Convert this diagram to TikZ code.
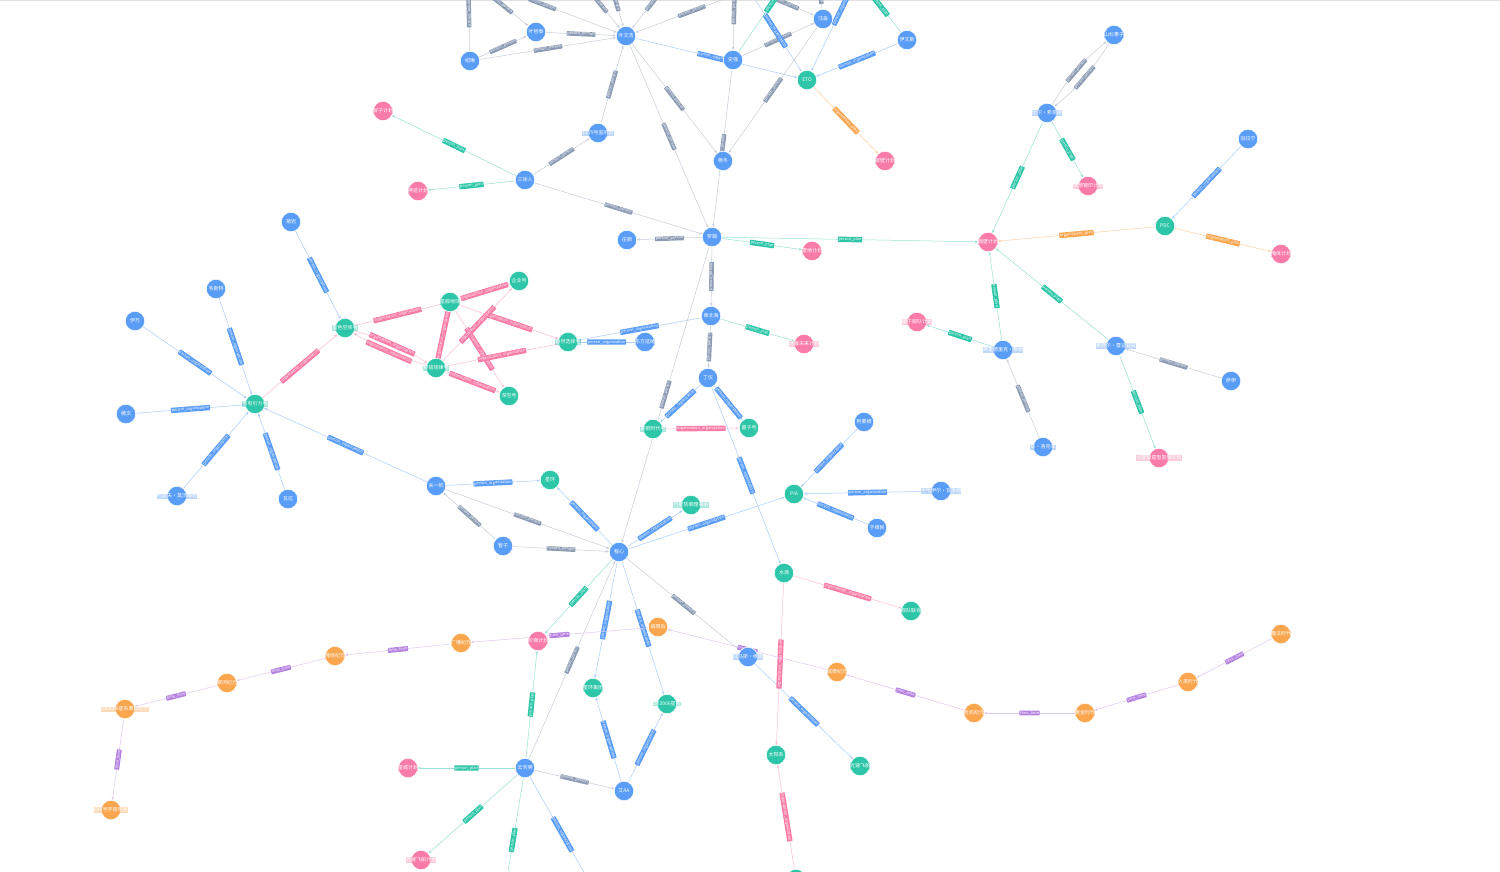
\documentclass[tikz,border=0pt]{standalone}
\usepackage{fontspec}
\setmainfont{Noto Sans CJK SC}
\usepackage{xcolor}
\usetikzlibrary{arrows.meta}
\pgfdeclarelayer{paper}
\pgfdeclarelayer{bg}
\pgfsetlayers{paper,bg,main}
\definecolor{perC}{HTML}{5A9DF7}
\definecolor{orgC}{HTML}{2DC6A8}
\definecolor{planC}{HTML}{F97BA7}
\definecolor{eraC}{HTML}{F9A64F}
\definecolor{ppC}{HTML}{8D9CB5}
\definecolor{ttC}{HTML}{B582E0}

\begin{document}
\begin{tikzpicture}[
  x=1pt, y=-1pt,
  nfont/.style={font=\fontsize{5}{5}\selectfont},
  ent/.style 2 args={circle, fill=#1, draw=white, line width=0.6pt,
    minimum size=19.5pt, inner sep=0pt,
    label={[fill=#1, fill opacity=0.4, text opacity=1, text=white,
            inner sep=0.2pt, nfont]center:#2}},
  person/.style={ent={perC}{#1}},
  org/.style={ent={orgC}{#1}},
  plan/.style={ent={planC}{#1}},
  era/.style={ent={eraC}{#1}},
  rel/.style={line width=0.5pt, -{Stealth[length=3.2pt,width=2.6pt]}},
  pp/.style={rel, draw=ppC!50},
  po/.style={rel, draw=perC!50},
  pl/.style={rel, draw=orgC!50},
  oo/.style={rel, draw=planC!50},
  op/.style={rel, draw=eraC!50},
  tt/.style={rel, draw=ttC!45},
  tag/.style={midway, sloped, fill=#1, text=white, inner sep=0.7pt,
              rounded corners=0.5pt, font=\fontsize{3.9}{3.9}\selectfont},
]
\useasboundingbox (0,0) rectangle (1500,871);
\begin{pgfonlayer}{paper}
\fill[white] (0,0) rectangle (1500,871);
\draw[black!12, line width=1.5pt] (0,0.5) -- (1500,0.5);
\end{pgfonlayer}

% ---- People ----
\node[person=叶文洁] (ywj) at (626,36) {};
\node[person=叶哲泰] (yzt) at (536,32) {};
\node[person=绍琳] (sl) at (470,61) {};
\node[person=汪淼] (wm) at (823,19) {};
\node[person=史强] (sq) at (733,60) {};
\node[person=伊文斯] (yws) at (907,40) {};
\node[person=杨冬] (yd) at (723,161) {};
\node[person=1379号监听员] (jt) at (598,133) {};
\node[person=三体人] (str) at (525,180) {};
\node[person=罗辑] (lj) at (712,237) {};
\node[person=庄颜] (zy) at (627,240) {};
\node[person=章北海] (zbh) at (711,316) {};
\node[person=东方延绪] (dfyx) at (645,342) {};
\node[person=丁仪] (dy) at (708,378) {};
\node[person=山杉惠子] (ssh) at (1114,35) {};
\node[person=比尔·希恩斯] (xes) at (1047,113) {};
\node[person=加拉宁] (jln) at (1248,139) {};
\node[person=弗雷德里克·泰勒] (tl) at (1003,350) {};
\node[person=曼努尔·雷迪亚兹] (ldyz) at (1116,346) {};
\node[person=萨伊] (sy) at (1231,381) {};
\node[person=马·洛克菲] (mlk) at (1043,447) {};
\node[person=褚岩] (cy) at (291,222) {};
\node[person=韦斯特] (wst) at (216,289) {};
\node[person=伊万] (yw) at (135,321) {};
\node[person=薇文] (wwen) at (126,414) {};
\node[person=约瑟夫·莫沃维奇] (mww) at (177,496) {};
\node[person=瓦拉] (wl) at (288,499) {};
\node[person=关一帆] (gyf) at (436,486) {};
\node[person=智子] (zz) at (503,546) {};
\node[person=程心] (cx) at (619,552) {};
\node[person=阿蒙姆] (amm) at (864,422) {};
\node[person=米哈伊尔·瓦季姆] (wjm) at (941,491) {};
\node[person=于维民] (ywm) at (877,528) {};
\node[person=托马斯·维德] (wd) at (748,657) {};
\node[person=云天明] (ytm) at (525,768) {};
\node[person=艾AA] (aa) at (624,791) {};

% ---- Organisations ----
\node[org=ETO] (eto) at (807,80) {};
\node[org=PDC] (pdc) at (1165,226) {};
\node[org=蓝色空间号] (lskj) at (345,328) {};
\node[org=星舰地球] (xjdq) at (450,302) {};
\node[org=企业号] (qyh) at (519,281) {};
\node[org=终极规律号] (zjgl) at (436,368) {};
\node[org=深空号] (skh) at (509,396) {};
\node[org=自然选择号] (zrxz) at (568,342) {};
\node[org=万有引力号] (wyyl) at (255,404) {};
\node[org=青铜时代号] (qtsd) at (653,429) {};
\node[org=量子号] (lzh) at (749,428) {};
\node[org=星环] (xh) at (550,480) {};
\node[org=行星防御理事会] (xfy) at (691,505) {};
\node[org=PIA] (pia) at (794,494) {};
\node[org=水滴] (sd) at (784,573) {};
\node[org=舰队联合] (jdlh) at (911,611) {};
\node[org=星环集团] (xhjt) at (593,688) {};
\node[org=DX3906星系] (dx) at (667,704) {};
\node[org=太阳系] (tyx) at (776,755) {};
\node[org=光速飞船] (gsfc) at (860,766) {};
\node[org={}] (dbot) at (796,879) {};

% ---- Plans ----
\node[plan=智子计划] (zzjh) at (383,111) {};
\node[plan=神迹计划] (sjjh) at (418,191) {};
\node[plan=破壁计划] (pbjh) at (885,161) {};
\node[plan=雪地计划] (xdjh) at (812,251) {};
\node[plan=面壁计划] (mbjh) at (988,242) {};
\node[plan=思想钢印计划] (gyjh) at (1088,186) {};
\node[plan=掩体计划] (ytjh) at (1281,254) {};
\node[plan=增援未来计划] (zyjh) at (804,344) {};
\node[plan=量子舰队计划] (lzjh) at (917,322) {};
\node[plan=水星恒星型氢弹计划] (sxjh) at (1159,458) {};
\node[plan=阶梯计划] (jtjh) at (538,641) {};
\node[plan=星城计划] (xcjh) at (408,768) {};
\node[plan=光速飞船计划] (gsjh) at (421,860) {};

% ---- Eras ----
\node[era=威慑后] (wsh) at (658,627) {};
\node[era=广播纪元] (gbjy) at (461,643) {};
\node[era=掩体纪元] (ytjy) at (335,656) {};
\node[era=银河纪元] (yhjy) at (227,683) {};
\node[era=DX3906星系黑域纪元] (hyjy) at (125,709) {};
\node[era=647号宇宙时间] (sjx) at (111,810) {};
\node[era=威慑纪元] (wsjy) at (837,672) {};
\node[era=危机纪元] (wjjy) at (974,713) {};
\node[era=黄金时代] (hjsd) at (1085,713) {};
\node[era=人类时代] (rlsd) at (1188,682) {};
\node[era=魔法时代] (mfsd) at (1281,634) {};

% free ends off the top and bottom edge
\coordinate (u1) at (468,-25);
\coordinate (u2) at (474,-18);
\coordinate (u3) at (468,-24);
\coordinate (u4) at (576,-26);
\coordinate (u5) at (606,-32);
\coordinate (u6) at (678,-30);
\coordinate (u7) at (748,-10);
\coordinate (u8) at (757,-9);
\coordinate (u9) at (735,-30);
\coordinate (u10) at (818,-30);
\coordinate (u11) at (749,-10);
\coordinate (u12) at (873,-56);
\coordinate (u13) at (807,-48);
\coordinate (u14) at (860,-20);
\coordinate (d1) at (503,902);
\coordinate (d2) at (595,892);

\begin{pgfonlayer}{bg}
% person_person
\foreach \a/\b in {sl/yzt, sl/ywj, yzt/ywj, jt/ywj, str/jt, str/lj, ywj/yd,
    ywj/lj, sq/wm, sq/lj, wm/yd, lj/zy, lj/zbh, lj/cx, zbh/dy, mlk/tl,
    sy/ldyz, zz/gyf, gyf/cx, zz/cx, cx/wd, ytm/cx, ytm/aa,
    sl/u1, u2/yzt, u3/ywj, u4/ywj, u5/ywj, u6/ywj, u7/ywj, u8/wm, u9/sq, wm/u10}
  \draw[pp] (\a) -- node[tag=ppC]{person\_person} (\b);
\draw[pp] (xes) to[bend left=9] node[tag=ppC]{person\_person} (ssh);
\draw[pp] (ssh) to[bend left=9] node[tag=ppC]{person\_person} (xes);

% person_organization
\foreach \a/\b in {ywj/eto, u11/eto, u12/eto, yws/eto, zbh/zrxz, dfyx/zrxz,
    dy/qtsd, dy/lzh, dy/sd, jln/pdc, cy/lskj, wst/wyyl, yw/wyyl, wwen/wyyl,
    mww/wyyl, wl/wyyl, gyf/wyyl, gyf/xh, cx/xh, cx/xfy, cx/pia, amm/pia,
    wjm/pia, ywm/pia, cx/xhjt, cx/dx, aa/xhjt, aa/dx, wd/gsfc, ytm/d2}
  \draw[po] (\a) -- node[tag=perC]{person\_organization} (\b);

% person_plan
\foreach \a/\b in {str/zzjh, str/sjjh, lj/xdjh, lj/mbjh, zbh/zyjh, xes/mbjh,
    xes/gyjh, tl/mbjh, tl/lzjh, ldyz/mbjh, ldyz/sxjh, cx/jtjh, ytm/jtjh,
    ytm/xcjh, ytm/gsjh, ytm/d1, sq/u13, yws/u14}
  \draw[pl] (\a) -- node[tag=orgC]{person\_plan} (\b);

% organization_organization
\foreach \a/\b in {wyyl/lskj, xjdq/lskj, xjdq/qyh, xjdq/zrxz, xjdq/zjgl,
    xjdq/skh, zjgl/qyh, zjgl/zrxz, zjgl/skh, qtsd/lzh, sd/jdlh, sd/tyx, dbot/tyx}
  \draw[oo] (\a) -- node[tag=planC]{organization\_organization} (\b);
\draw[oo] (lskj) to[bend left=7] node[tag=planC]{organization\_organization} (zjgl);
\draw[oo] (zjgl) to[bend left=7] node[tag=planC]{organization\_organization} (lskj);

% organization_plan
\foreach \a/\b in {eto/pbjh, pdc/mbjh, pdc/ytjh}
  \draw[op] (\a) -- node[tag=eraC]{organization\_plan} (\b);

% time_time
\foreach \a/\b in {mfsd/rlsd, rlsd/hjsd, hjsd/wjjy, wjjy/wsjy, wsjy/wsh,
    wsh/gbjy, gbjy/ytjy, ytjy/yhjy, yhjy/hyjy, hyjy/sjx}
  \draw[tt] (\a) -- node[tag=ttC]{time\_time} (\b);
\end{pgfonlayer}
\end{tikzpicture}
\end{document}
